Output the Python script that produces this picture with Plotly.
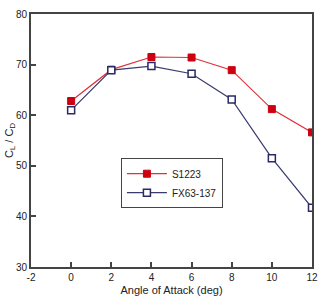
import plotly.graph_objects as go

aoa = [0, 2, 4, 6, 8, 10, 12]
s1223 = [62.8, 69.0, 71.5, 71.4, 68.9, 61.2, 56.6]
fx63 = [61.0, 68.9, 69.7, 68.2, 63.1, 51.5, 41.7]
x_ticks = [-2, 0, 2, 4, 6, 8, 10, 12]
x_tick_labels = ["-2", "0", "2", "4", "6", "8", "10", "12"]
y_ticks = [30, 40, 50, 60, 70, 80]

fig = go.Figure()
fig.add_trace(go.Scatter(x=aoa, y=s1223, name="S1223", mode="lines+markers",
                         line=dict(color="#e0303a", width=1.2),
                         marker=dict(symbol="square", size=7, color="#cc0010",
                                     line=dict(color="#cc0010", width=1))))
fig.add_trace(go.Scatter(x=aoa, y=fx63, name="FX63-137", mode="lines+markers",
                         line=dict(color="#3a3a6e", width=1.2),
                         marker=dict(symbol="square", size=7, color="white",
                                     line=dict(color="#2a2a66", width=1.5))))

axis_common = dict(showgrid=False, zeroline=False, showline=True, linecolor="#444",
                   linewidth=2, mirror=True, ticks="inside", ticklen=5, tickwidth=1.5,
                   tickcolor="#444", tickfont=dict(family="Liberation Sans, Arial", size=10, color="#222"))

fig.update_xaxes(range=[-2, 12], tickvals=x_ticks, ticktext=x_tick_labels, **axis_common,
                 title=dict(text="Angle of Attack (deg)", standoff=4,
                            font=dict(family="Liberation Sans, Arial", size=11, color="#222")))
fig.update_yaxes(range=[30, 80], tickvals=y_ticks, **axis_common,
                 title=dict(text="C<sub>L</sub> / C<sub>D</sub>", standoff=0,
                            font=dict(family="Liberation Sans, Arial", size=11, color="#222")))

fig.update_layout(width=326, height=303, margin=dict(l=27, r=10, t=8, b=32),
                  plot_bgcolor="white", paper_bgcolor="white",
                  legend=dict(x=0.32, y=0.43, xanchor="left", yanchor="top",
                              bordercolor="#444", borderwidth=1, bgcolor="white",
                              font=dict(family="Liberation Sans, Arial", size=10, color="#222"),
                              tracegroupgap=0, itemwidth=40))

fig.write_html("out.html")
